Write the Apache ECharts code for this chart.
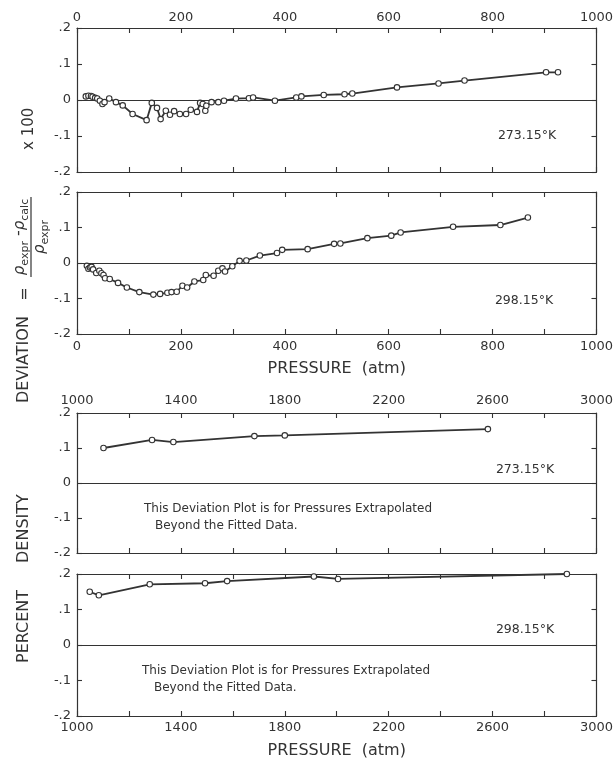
<!DOCTYPE html>
<html><head><meta charset="utf-8">
<script src="https://cdn.jsdelivr.net/npm/echarts@6/dist/echarts.min.js"></script>
<style>html,body{margin:0;padding:0;background:#fff}#c{width:616px;height:760px}</style>
</head><body><div id="c"></div>
<script>
// ---- data ----
const p273a = [17,22,27,30,35,39,44,49,53,62,75,88,107,134,144,154,161,171,179,187,198,210,219,231,237,242,247,249,259,272,283,306,331,339,381,422,432,475,515,530,616,696,746,903,926];
const d273a = [0.010,0.012,0.011,0.009,0.006,0.004,-0.002,-0.011,-0.006,0.004,-0.006,-0.015,-0.039,-0.056,-0.008,-0.022,-0.053,-0.030,-0.041,-0.031,-0.039,-0.039,-0.027,-0.033,-0.008,-0.011,-0.030,-0.016,-0.006,-0.006,-0.002,0.004,0.005,0.007,-0.002,0.007,0.010,0.014,0.016,0.018,0.035,0.046,0.054,0.077,0.077];
const p298a = [19,22,25,28,31,37,43,47,51,54,63,79,96,120,147,160,174,182,192,203,212,226,243,248,263,272,280,285,299,313,326,352,385,395,444,495,507,559,605,623,724,815,868];
const d298a = [-0.008,-0.016,-0.013,-0.011,-0.018,-0.028,-0.022,-0.029,-0.034,-0.043,-0.045,-0.056,-0.069,-0.082,-0.089,-0.087,-0.084,-0.082,-0.081,-0.064,-0.069,-0.052,-0.048,-0.034,-0.036,-0.022,-0.015,-0.024,-0.009,0.006,0.007,0.021,0.028,0.037,0.039,0.054,0.055,0.070,0.077,0.086,0.102,0.107,0.128];
const p273b = [1102,1289,1371,1683,1800,2582];
const d273b = [0.100,0.123,0.117,0.134,0.136,0.154];
const p298b = [1049,1084,1280,1493,1578,1912,2005,2886];
const d298b = [0.150,0.140,0.171,0.174,0.180,0.193,0.186,0.200];
const yTickLabels = ['-.2','-.1','0','.1','.2'];
const tempLabels = ['273.15°K','298.15°K','273.15°K','298.15°K'];
const noteLines = ['This Deviation Plot is for Pressures Extrapolated','Beyond the Fitted Data.'];
const xTitle = 'PRESSURE  (atm)';

// ---- style ----
const INK = '#333';
const FONT = '"DejaVu Sans", sans-serif';
const grids = [
  {left:77, top:28, width:520, height:144},
  {left:77, top:192, width:520, height:142},
  {left:77, top:413, width:520, height:140},
  {left:77, top:574, width:520, height:150}
];
const xr = [
  {min:0,max:1000,interval:100,lab:200,labPos:'top',margin:4},
  {min:0,max:1000,interval:100,lab:200,labPos:'bottom',margin:6},
  {min:1000,max:3000,interval:200,lab:400,labPos:'top',margin:6},
  {min:1000,max:3000,interval:200,lab:400,labPos:'bottom',margin:5}
];
const xAxis = [], yAxis = [];
grids.forEach((g,i)=>{
  const r = xr[i];
  ['bottom','top'].forEach(pos=>{
    const labeled = pos===r.labPos;
    xAxis.push({
      type:'value', gridIndex:i, position:pos, min:r.min, max:r.max, interval:r.interval,
      axisLine:{show:true, onZero:false, lineStyle:{color:INK,width:1.2}},
      axisTick:{show:true, inside:true, length:5, lineStyle:{color:INK,width:1.1}},
      axisLabel:{show:labeled, margin:r.margin, fontSize:13, color:INK, fontFamily:FONT,
        formatter:v=>((v-r.min)%r.lab===0? String(v):'')},
      splitLine:{show:false},
      name:(labeled && pos==='bottom')? xTitle : '',
      nameLocation:'middle', nameGap:27,
      nameTextStyle:{fontSize:16, color:INK, fontFamily:FONT}
    });
  });
  ['left','right'].forEach(pos=>{
    yAxis.push({
      type:'value', gridIndex:i, position:pos, min:-0.2, max:0.2, interval:0.1,
      axisLine:{show:true, onZero:false, lineStyle:{color:INK,width:1.2}},
      axisTick:{show:true, inside:true, length:5, lineStyle:{color:INK,width:1.1}},
      axisLabel:{show:pos==='left', margin:6, fontSize:13, color:INK, fontFamily:FONT,
        formatter:v=>yTickLabels[Math.round(v*10)+2]},
      splitLine:{show:false}
    });
  });
});
const sets = [[p273a,d273a],[p298a,d298a],[p273b,d273b],[p298b,d298b]];
const series = sets.map((s,i)=>({
  type:'line', xAxisIndex:i*2, yAxisIndex:i*2,
  data:s[0].map((p,k)=>[p,s[1][k]]),
  symbol:'circle', symbolSize:5.5, showAllSymbol:true,
  itemStyle:{color:'#fff', borderColor:INK, borderWidth:1.1},
  lineStyle:{color:INK, width:1.8},
  silent:true, z:3,
  markLine:{silent:true, symbol:'none', label:{show:false},
    lineStyle:{color:INK, type:'solid', width:1.2}, data:[{yAxis:0}], z:2}
}));

// ---- text annotations ----
const graphic = [];
const tempPos = [[527,136],[524,301],[525,470],[525,630]];
tempPos.forEach((p,i)=>graphic.push({type:'text', x:p[0], y:p[1],
  style:{text:tempLabels[i], font:'12.5px '+FONT, fill:INK, textAlign:'center', textVerticalAlign:'middle'}}));
[[144,509,155,526],[142,671,154,688]].forEach(a=>{
  graphic.push({type:'text', x:a[0], y:a[1], style:{text:noteLines[0], font:'12px '+FONT, fill:INK, textAlign:'left', textVerticalAlign:'middle'}});
  graphic.push({type:'text', x:a[2], y:a[3], style:{text:noteLines[1], font:'12px '+FONT, fill:INK, textAlign:'left', textVerticalAlign:'middle'}});
});

// rotated y-axis title
const cv = document.createElement('canvas').getContext('2d');
function tw(t,f){cv.font=f;return cv.measureText(t).width;}
const fMain = '16px '+FONT, fRho = 'italic 15px '+FONT, fSub = '11px '+FONT;
const kids = [];
function txt(t,lx,ly,f,al){kids.push({type:'text', x:lx, y:ly, style:{text:t, font:f, fill:INK, textAlign:al||'left', textVerticalAlign:'middle'}});}
txt('PERCENT',97,24,fMain);
txt('DENSITY',197,24,fMain);
txt('DEVIATION',357,24,fMain);
txt('=',466,25,fMain,'center');
// fraction
kids.push({type:'line', shape:{x1:483,y1:31,x2:563,y2:31}, style:{stroke:INK, lineWidth:1.2}});
function frac(parts, cx, ly){
  let w=0; parts.forEach(p=>w+=tw(p[0],p[1]));
  let x=cx-w/2;
  parts.forEach(p=>{txt(p[0],x,ly+p[2],p[1]); x+=tw(p[0],p[1]);});
}
frac([['ρ',fRho,0],['expr',fSub,5],[' -',fMain,-1],['ρ',fRho,0],['calc',fSub,5]],523,20);
frac([['ρ',fRho,0],['expr',fSub,5]],523,40);
txt('x 100',610,29,'15px '+FONT);
graphic.push({type:'group', x:0, y:760, rotation:Math.PI/2, children:kids});

const chart = echarts.init(document.getElementById('c'), null, {renderer:'canvas'});
chart.setOption({
  animation:false, backgroundColor:'#fff',
  grid:grids, xAxis, yAxis, series, graphic
});
</script></body></html>
